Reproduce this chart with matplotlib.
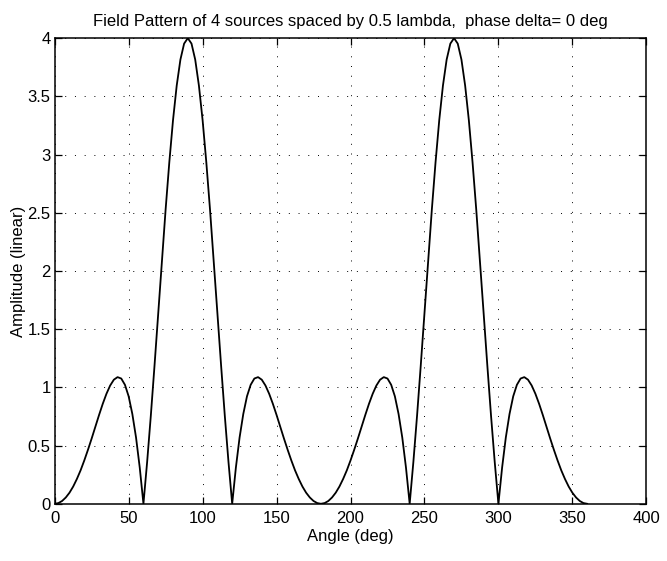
import numpy as np
import matplotlib
matplotlib.use('Agg')
from matplotlib import pyplot as plt

# 振幅パターン（図から読み取った値、2.5度刻み）
amp_q1 = [0.000, 0.006, 0.024, 0.054, 0.095, 0.148, 0.213, 0.287, 0.372, 0.464,
          0.561, 0.662, 0.763, 0.859, 0.945, 1.016, 1.066, 1.088, 1.076, 1.022,
          0.923, 0.771, 0.569, 0.311, 0.000, 0.359, 0.758, 1.189, 1.638, 2.090,
          2.529, 2.935, 3.296, 3.593, 3.816, 3.953, 4.000]
amp_q2 = [3.953, 3.816, 3.593, 3.296, 2.935, 2.529, 2.090, 1.638, 1.189, 0.758,
          0.359, 0.000, 0.311, 0.569, 0.771, 0.923, 1.022, 1.076, 1.088, 1.066,
          1.016, 0.945, 0.859, 0.763, 0.662, 0.561, 0.464, 0.372, 0.287, 0.213,
          0.148, 0.095, 0.054, 0.024, 0.006, 0.000]
amp_q3 = [0.006, 0.024, 0.054, 0.095, 0.148, 0.213, 0.287, 0.372, 0.464,
          0.561, 0.662, 0.763, 0.859, 0.945, 1.016, 1.066, 1.088, 1.076, 1.022,
          0.923, 0.771, 0.569, 0.311, 0.000, 0.359, 0.758, 1.189, 1.638, 2.090,
          2.529, 2.935, 3.296, 3.593, 3.816, 3.953, 4.000]
amp_q4 = [3.953, 3.816, 3.593, 3.296, 2.935, 2.529, 2.090, 1.638, 1.189, 0.758,
          0.359, 0.000, 0.311, 0.569, 0.771, 0.923, 1.022, 1.076, 1.088, 1.066,
          1.016, 0.945, 0.859, 0.763, 0.662, 0.561, 0.464, 0.372, 0.287, 0.213,
          0.148, 0.095, 0.054, 0.024, 0.006, 0.000]
amplitude = amp_q1 + amp_q2 + amp_q3 + amp_q4
angle = np.linspace(0, 360, len(amplitude))

x_ticks = [0, 50, 100, 150, 200, 250, 300, 350, 400]
y_ticks = [0, 0.5, 1, 1.5, 2, 2.5, 3, 3.5, 4]
y_tick_labels = ['0', '0.5', '1', '1.5', '2', '2.5', '3', '3.5', '4']

# フォントと目盛の設定
plt.rcParams['font.family'] = ['Liberation Sans', 'DejaVu Sans']
plt.rcParams['font.size'] = 12
plt.rcParams['xtick.direction'] = 'in'
plt.rcParams['ytick.direction'] = 'in'

fig = plt.figure(figsize=(6.67, 5.61), dpi=100)
ax1 = fig.add_axes([0.082, 0.102, 0.887, 0.830])
ax1.yaxis.set_ticks_position('both')
ax1.xaxis.set_ticks_position('both')
ax1.tick_params(length=5, width=0.9, labelsize=12)
ax1.tick_params(axis='x', pad=5)
ax1.tick_params(axis='y', pad=3)

ax1.plot(angle, amplitude, color='black', linewidth=1.3)

ax1.set_xlim(0, 400)
ax1.set_ylim(0, 4)
ax1.set_xticks(x_ticks)
ax1.set_yticks(y_ticks)
ax1.set_yticklabels(y_tick_labels)
ax1.grid(True, color='black', linestyle=(0, (1, 9)), linewidth=0.7)
for s in ax1.spines.values():
    s.set_linewidth(1.1)

ax1.set_xlabel('Angle (deg)', fontsize=12, labelpad=2)
ax1.set_ylabel('Amplitude (linear)', fontsize=12, labelpad=1)
ax1.set_title('Field Pattern of 4 sources spaced by 0.5 lambda,  phase delta= 0 deg',
              fontsize=12, pad=9)

fig.savefig('out.png', dpi=100)
plt.close()
